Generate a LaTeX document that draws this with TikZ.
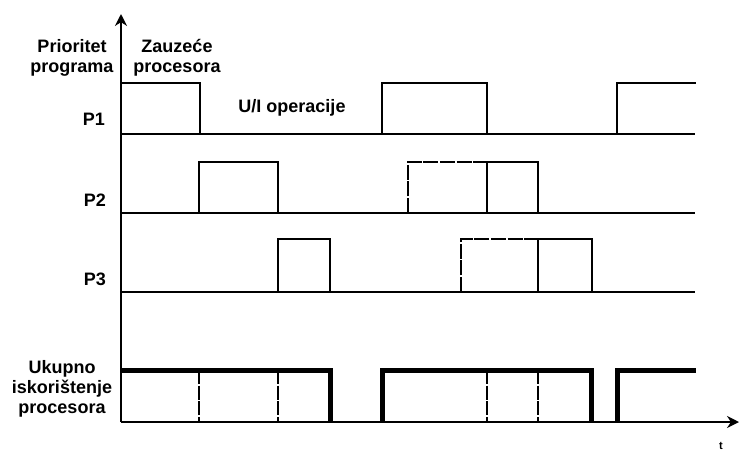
\documentclass[tikz,border=0pt]{standalone}
\usepackage{fontspec}
\setmainfont{Liberation Sans}
\usetikzlibrary{arrows.meta}
\begin{document}
\begin{tikzpicture}[x=1pt,y=-1pt,
  wave/.style={line width=1.6pt, line join=miter},
  waveguess/.style={wave, dash pattern=on 15pt off 1.6pt},
  busy/.style={line width=5pt, line join=miter},
  split/.style={line width=1.4pt, dash pattern=on 14pt off 1.6pt},
  lbl/.style={font=\fontsize{18}{20}\selectfont\bfseries, align=center, inner sep=0pt},
  axis/.style={line width=1.6pt, -{Stealth[length=12pt,width=12pt]}}]
\useasboundingbox (0,0) rectangle (739,451);

% axes
\coordinate (O) at (121,422);
\coordinate (ytop) at (121,14);
\coordinate (xend) at (739,422);
\draw[axis] (O) -- (ytop);
\draw[axis] (O) -- (xend);

% P1 activity
\draw[wave] (121,134) -- (695,134);
\draw[wave] (121,83) -- (200,83) -- (200,134);
\draw[wave] (382,134) -- (382,83) -- (487,83) -- (487,134);
\draw[wave] (617,134) -- (617,83) -- (696,83);

% P2 activity
\draw[wave] (121,213) -- (695,213);
\draw[wave] (199,213) -- (199,162) -- (278,162) -- (278,213);
\draw[waveguess] (408,213) -- (408,162) -- (487,162);
\draw[wave] (487,213) -- (487,162) -- (538,162) -- (538,213);

% P3 activity
\draw[wave] (121,292) -- (695,292);
\draw[wave] (278,292) -- (278,239) -- (330,239) -- (330,292);
\draw[waveguess] (461,292) -- (461,239) -- (538,239);
\draw[wave] (538,292) -- (538,239) -- (592,239) -- (592,292);

% total processor usage
\foreach \xx in {199,278,487,538}
  \draw[split] (\xx,370) -- (\xx,422);
\draw[busy] (121,370) -- (330,370) -- (330,422);
\draw[busy] (382,422) -- (382,370) -- (591,370) -- (591,422);
\draw[busy] (617,422) -- (617,370) -- (696,370);

% labels
\node[lbl] (prio) at (72,58) {Prioritet\\programa};
\node[lbl] (zauz) at (177,58) {Zauzeće\\procesora};
\node[lbl] (io) at (292,108) {U/I operacije};
\node[lbl] (p1) at (94,119) {P1};
\node[lbl] (p2) at (95,200) {P2};
\node[lbl] (p3) at (95,279) {P3};
\node[lbl] (uk) at (62,389) {Ukupno\\iskorištenje\\procesora};
\node[lbl, font=\fontsize{11}{13}\selectfont\bfseries] (t) at (721,446) {t};
\end{tikzpicture}
\end{document}
